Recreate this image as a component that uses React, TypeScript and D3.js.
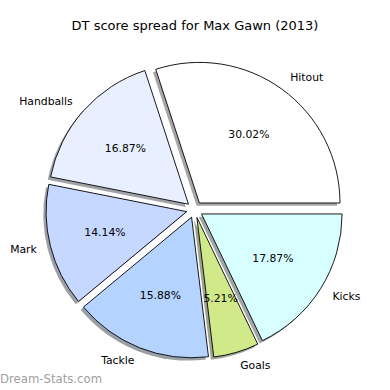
import React from "react";
import * as d3 from "d3";

const categories = ["Hitout", "Handballs", "Mark", "Tackle", "Goals", "Kicks"];
const values = [30.02, 16.87, 14.14, 15.88, 5.21, 17.87];
const colors = ["#ffffff", "#e8f0ff", "#c6d8ff", "#b4d4ff", "#d0ea8a", "#d8ffff"];
const titleText = "DT score spread for Max Gawn (2013)";
const watermark = "Dream-Stats.com";

const W = 390;
const H = 390;
const cx = 194.6;
const cy = 209.6;
const R = 140.6;
const explode = 0.058;
const shadowOff = 0.02 * R;
const FONT = "DejaVu Sans, sans-serif";

export default function App() {
  const pie = d3
    .pie<number>()
    .sort(null)
    .value((d) => d)
    .startAngle(Math.PI / 2)
    .endAngle(Math.PI / 2 - 2 * Math.PI);
  const arcs = pie(values);
  const arc = d3.arc<d3.PieArcDatum<number>>().innerRadius(0).outerRadius(R);

  const items = arcs.map((a, i) => {
    const mid = (a.startAngle + a.endAngle) / 2;
    const ox = Math.sin(mid) * explode * R;
    const oy = -Math.cos(mid) * explode * R;
    const lx = cx + ox + Math.sin(mid) * 1.1 * R;
    const ly = cy + oy - Math.cos(mid) * 1.1 * R;
    const px = cx + ox + Math.sin(mid) * 0.6 * R;
    const py = cy + oy - Math.cos(mid) * 0.6 * R;
    const c = d3.rgb(colors[i]);
    const shadow = d3.rgb(c.r * 0.3, c.g * 0.3, c.b * 0.3).formatHex();
    return { a, i, ox, oy, lx, ly, px, py, shadow, path: arc(a) || "" };
  });

  return (
    <svg
      width={W}
      height={H}
      style={{ position: "absolute", left: 0, top: 0, background: "#fff" }}
      fontFamily={FONT}
    >
      <rect width={W} height={H} fill="#fff" />
      <text x={195} y={29.5} textAnchor="middle" fontSize={13} fill="#000">
        {titleText}
      </text>
      {items.map((d) => (
        <path
          key={"s" + d.i}
          d={d.path}
          transform={`translate(${cx + d.ox - shadowOff},${cy + d.oy + shadowOff})`}
          fill={d.shadow}
          fillOpacity={0.5}
        />
      ))}
      {items.map((d) => (
        <path
          key={"w" + d.i}
          d={d.path}
          transform={`translate(${cx + d.ox},${cy + d.oy})`}
          fill={colors[d.i]}
          stroke="#000"
          strokeWidth={0.9}
          strokeLinejoin="round"
        />
      ))}
      {items.map((d) => (
        <text
          key={"l" + d.i}
          x={d.lx}
          y={d.ly}
          textAnchor={d.lx > cx ? "start" : "end"}
          dominantBaseline="central"
          fontSize={10.8}
          fill="#000"
        >
          {categories[d.i]}
        </text>
      ))}
      {items.map((d) => (
        <text
          key={"p" + d.i}
          x={d.px}
          y={d.py}
          textAnchor="middle"
          dominantBaseline="central"
          fontSize={10.8}
          fill="#000"
        >
          {values[d.i].toFixed(2) + "%"}
        </text>
      ))}
      <text x={0} y={383} fontSize={11.7} fill="#a0a0a0">
        {watermark}
      </text>
    </svg>
  );
}
